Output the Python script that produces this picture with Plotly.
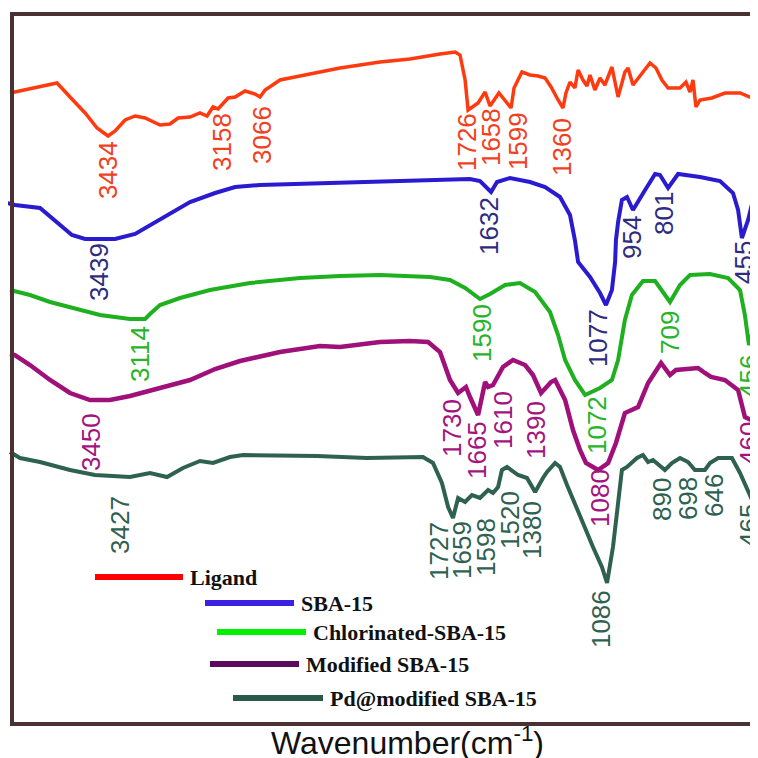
import plotly.graph_objects as go

REF = 758          # reference picture size (px)
OFF = 8            # page body margin offset
W = H = REF - OFF  # figure size so it ends at the window edge

# ---------------- data (wavenumber cm-1, transmittance a.u.) ----------------
ligand_wn = [3895, 3848, 3778, 3674, 3613, 3542, 3486, 3434, 3401, 3354, 3307, 3260, 3190, 3143, 3105,
             3049, 3002, 2969, 2941, 2917, 2870, 2837, 2790, 2743, 2720, 2696, 2626, 2485, 2344, 2156,
             2015, 1874, 1803, 1780, 1756, 1742, 1695, 1662, 1639, 1597, 1540, 1526, 1489, 1451, 1413,
             1380, 1352, 1319, 1296, 1282, 1263, 1240, 1225, 1202, 1183, 1169, 1146, 1122, 1099, 1066,
             1037, 1005, 990, 967, 887, 859, 831, 802, 746, 718, 699, 685, 671, 652, 596, 535, 464, 408, 379]
ligand_t = [66.5, 66.7, 67.0, 67.5, 66.1, 64.5, 63.0, 62.2, 62.7, 63.8, 64.2, 64.0, 63.3, 63.4, 64.0,
            64.1, 64.5, 64.2, 65.1, 64.9, 66.0, 66.1, 66.7, 66.4, 66.1, 66.8, 67.8, 68.4, 69.0, 69.6,
            69.9, 70.4, 70.6, 70.3, 67.8, 64.8, 65.5, 66.6, 65.2, 66.5, 65.0, 67.0, 68.6, 68.3, 68.2,
            68.0, 67.1, 65.8, 65.0, 66.5, 67.6, 67.0, 68.8, 67.8, 67.2, 68.3, 66.8, 68.0, 67.3, 69.1,
            66.1, 68.6, 69.0, 67.3, 69.5, 69.0, 67.8, 67.0, 67.0, 67.6, 66.6, 67.8, 65.1, 65.8, 66.0,
            66.5, 66.5, 66.0, 65.5]

sba_wn = [3909, 3872, 3754, 3684, 3604, 3542, 3401, 3307, 3190, 3049, 2931, 2837, 2720, 2532, 2344,
          2156, 1921, 1733, 1686, 1634, 1606, 1545, 1451, 1380, 1310, 1263, 1240, 1225, 1169, 1122,
          1094, 1066, 1051, 1047, 1037, 1019, 995, 967, 910, 863, 840, 802, 755, 652, 558, 497, 473,
          455, 426, 403, 379]
sba_t = [55.5, 55.3, 55.0, 53.8, 52.3, 51.9, 51.9, 52.4, 53.8, 55.6, 56.5, 57.1, 57.3, 57.4, 57.5,
         57.6, 57.8, 57.9, 57.7, 56.6, 57.6, 58.0, 57.6, 57.1, 56.1, 54.3, 51.8, 49.6, 48.1, 46.5,
         45.3, 46.8, 49.6, 51.8, 53.6, 55.8, 56.1, 54.8, 56.8, 58.4, 58.3, 57.0, 58.4, 58.1, 57.7,
         56.5, 54.8, 52.0, 53.8, 55.8, 56.8]

chl_wn = [3895, 3801, 3707, 3566, 3472, 3331, 3260, 3237, 3190, 3096, 2955, 2767, 2532, 2344, 2156,
          1921, 1827, 1756, 1686, 1639, 1568, 1498, 1427, 1357, 1319, 1286, 1240, 1192, 1122, 1066,
          1037, 1005, 972, 920, 863, 793, 746, 699, 605, 520, 464, 441, 422, 389, 379]
chl_t = [46.8, 46.3, 45.6, 44.8, 44.3, 43.9, 43.9, 44.4, 45.3, 46.0, 46.8, 47.5, 48.0, 48.2, 48.3,
         48.1, 47.8, 47.0, 45.9, 46.4, 47.3, 47.5, 46.6, 44.6, 42.3, 39.8, 37.8, 36.3, 37.0, 37.8,
         39.8, 43.8, 46.3, 47.7, 47.7, 45.6, 47.3, 48.3, 48.4, 48.0, 46.8, 44.3, 41.3, 43.8, 44.6]

mod_wn = [3895, 3872, 3801, 3707, 3613, 3519, 3425, 3331, 3190, 3049, 2931, 2814, 2626, 2438, 2344,
          2156, 2015, 1930, 1874, 1827, 1789, 1752, 1733, 1695, 1662, 1648, 1625, 1578, 1531, 1474,
          1437, 1399, 1352, 1333, 1286, 1249, 1216, 1188, 1131, 1084, 1047, 1005, 943, 896, 835,
          793, 765, 661, 629, 600, 535, 473, 441, 412, 379]
mod_t = [40.4, 40.3, 39.3, 37.8, 36.5, 35.8, 35.8, 36.2, 37.0, 37.8, 38.9, 39.7, 40.6, 41.2, 41.1,
         41.6, 41.7, 41.6, 40.6, 37.8, 36.5, 37.1, 36.1, 34.3, 37.6, 37.1, 37.3, 39.1, 39.8, 39.3,
         38.3, 36.5, 37.6, 37.8, 35.8, 32.8, 30.8, 29.5, 28.8, 29.5, 31.5, 34.5, 35.1, 37.5, 39.5,
         38.3, 38.8, 39.0, 38.5, 38.1, 37.8, 36.8, 34.1, 33.8, 34.8]

pd_wn = [3895, 3848, 3754, 3613, 3496, 3331, 3237, 3157, 3082, 3002, 2941, 2861, 2800, 2452, 2217,
         1954, 1907, 1865, 1836, 1813, 1789, 1756, 1724, 1686, 1648, 1625, 1601, 1583, 1559, 1507,
         1465, 1427, 1390, 1371, 1333, 1310, 1277, 1240, 1202, 1155, 1113, 1089, 1061, 1037, 1019,
         995, 948, 920, 896, 873, 817, 784, 746, 708, 676, 629, 605, 567, 502, 464, 426, 403, 379]
pd_t = [30.6, 30.0, 29.6, 28.8, 28.3, 28.1, 28.5, 28.1, 29.0, 29.7, 29.5, 30.1, 30.3, 30.2, 30.0,
        30.1, 29.5, 27.5, 25.1, 24.0, 26.0, 25.6, 26.3, 26.0, 26.8, 26.5, 27.1, 28.8, 29.1, 28.3,
        28.0, 26.6, 28.0, 28.6, 29.5, 29.1, 27.3, 25.5, 23.5, 21.1, 19.1, 17.5, 21.1, 25.5, 28.8,
        29.1, 30.0, 30.3, 29.6, 29.8, 28.8, 29.5, 30.0, 29.6, 28.8, 28.8, 29.5, 30.0, 30.0, 28.5,
        26.8, 25.6, 26.5]

series_names = ["Ligand", "SBA-15", "Chlorinated-SBA-15", "Modified SBA-15", "Pd@modified SBA-15"]

# peak labels (text) with label anchor positions (wavenumber, transmittance)
ligand_peaks = ["3434", "3158", "3066", "1726", "1658", "1599", "1360"]
ligand_peak_wn = [3434, 2899, 2711, 1747, 1634, 1507, 1301]
ligand_peak_t = [58.8, 61.6, 62.3, 61.6, 62.1, 61.7, 61.1]

sba_peaks = ["3439", "1632", "954", "801", "455", "1077"]
sba_peak_wn = [3477, 1644, 972, 821, 445, 1131]
sba_peak_t = [48.6, 53.2, 52.1, 54.4, 49.5, 42.0]

chl_peaks = ["3114", "1590", "709", "456", "1072"]
chl_peak_wn = [3284, 1677, 793, 422, 1136]
chl_peak_t = [40.4, 42.5, 42.5, 38.2, 33.3]

mod_peaks = ["3450", "1730", "1665", "1610", "1390", "1080", "460"]
mod_peak_wn = [3514, 1818, 1700, 1578, 1423, 1122, 422]
mod_peak_t = [31.6, 33.0, 30.8, 33.8, 32.8, 26.0, 31.5]

pd_peaks = ["3427", "1727", "1659", "1598", "1520", "1380", "1086", "890", "698", "646", "465"]
pd_peak_wn = [3378, 1879, 1771, 1658, 1545, 1442, 1117, 831, 708, 586, 422]
pd_peak_t = [23.3, 20.7, 20.8, 21.1, 23.8, 22.8, 13.9, 25.9, 25.9, 26.2, 23.3]

# ---------------- styling ----------------
line_colors = ["#ff3a0f", "#2a1ad0", "#1fb01f", "#a0107a", "#2f6150"]
label_colors = ["#f2401e", "#2e2c80", "#28b428", "#a3147e", "#2f6150"]
legend_colors = ["#ff0000", "#3a22e0", "#00f000", "#5c0b5c", "#2b5a4a"]
line_widths = [3.5, 4, 4, 4.5, 4]

curves = [(ligand_wn, ligand_t), (sba_wn, sba_t), (chl_wn, chl_t), (mod_wn, mod_t), (pd_wn, pd_t)]
labels = [(ligand_peaks, ligand_peak_wn, ligand_peak_t),
          (sba_peaks, sba_peak_wn, sba_peak_t),
          (chl_peaks, chl_peak_wn, chl_peak_t),
          (mod_peaks, mod_peak_wn, mod_peak_t),
          (pd_peaks, pd_peak_wn, pd_peak_t)]

fig = go.Figure()
for (xw, yt), name, col, lw in zip(curves, series_names, line_colors, line_widths):
    fig.add_trace(go.Scatter(x=xw, y=yt, mode="lines", name=name,
                             line=dict(color=col, width=lw, shape="linear"),
                             showlegend=False, hoverinfo="skip", cliponaxis=False))

annotations = []
for (txts, xs, ys), col in zip(labels, label_colors):
    for t, xv, yv in zip(txts, xs, ys):
        annotations.append(dict(x=xv, y=yv, xref="x", yref="y", text=t, showarrow=False,
                                textangle=-90, xanchor="center", yanchor="middle",
                                font=dict(family="Liberation Sans, Arial", size=26, color=col)))


def xp(px):
    return (px - OFF) / W


def yp(py):
    return 1 - (py - OFF) / H


shapes = []
frame_col = "#4a3232"
shapes.append(dict(type="line", xref="paper", yref="paper", x0=xp(12), x1=xp(12), y0=yp(13), y1=yp(726),
                   line=dict(color=frame_col, width=4)))
shapes.append(dict(type="line", xref="paper", yref="paper", x0=xp(10), x1=xp(760), y0=yp(14), y1=yp(14),
                   line=dict(color=frame_col, width=4)))
shapes.append(dict(type="line", xref="paper", yref="paper", x0=xp(10), x1=xp(760), y0=yp(724), y1=yp(724),
                   line=dict(color=frame_col, width=4)))

# legend (staggered, as in the original)
leg_x0 = [95, 205, 217, 210, 233]
leg_x1 = [183, 294, 306, 299, 323]
leg_y = [577, 603, 632, 664, 698]
for name, col, a, b, yy in zip(series_names, legend_colors, leg_x0, leg_x1, leg_y):
    shapes.append(dict(type="line", xref="paper", yref="paper", x0=xp(a), x1=xp(b), y0=yp(yy), y1=yp(yy),
                       line=dict(color=col, width=6)))
    annotations.append(dict(x=xp(b + 5), y=yp(yy), xref="paper", yref="paper", text="<b>%s</b>" % name,
                            showarrow=False, xanchor="left", yanchor="middle",
                            font=dict(family="Liberation Serif, Times New Roman", size=22, color="#111111")))

annotations.append(dict(x=xp(407), y=yp(741), xref="paper", yref="paper",
                        text="Wavenumber(cm<sup>-1</sup>)", showarrow=False,
                        xanchor="center", yanchor="middle",
                        font=dict(family="Liberation Sans, Arial", size=32, color="#111111")))

# axis ranges chosen so the reference pixel grid maps onto wavenumber / transmittance
x_left = 3942 - 4.7 * OFF
x_right = 3942 - 4.7 * REF
fig.update_layout(
    width=W, height=H, autosize=False,
    margin=dict(l=0, r=0, t=0, b=0, pad=0),
    paper_bgcolor="white", plot_bgcolor="white",
    xaxis=dict(range=[x_left, x_right], visible=False, showgrid=False, zeroline=False, fixedrange=True),
    yaxis=dict(range=[0, (REF - OFF) / 10], visible=False, showgrid=False, zeroline=False, fixedrange=True),
    shapes=shapes, annotations=annotations, showlegend=False,
)

fig.write_html("out.html")
